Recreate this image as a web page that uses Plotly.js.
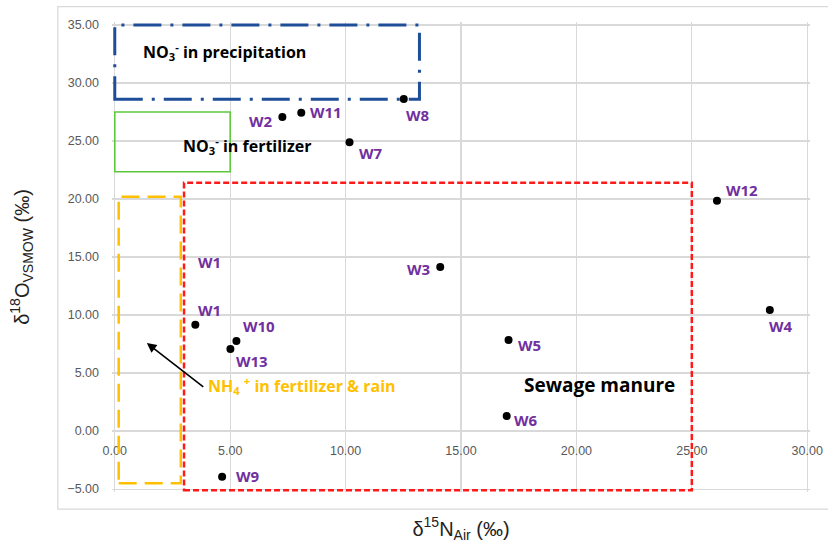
<!DOCTYPE html>
<html>
<head>
<meta charset="utf-8">
<script src="https://cdn.plot.ly/plotly-3.0.1.min.js"></script>
<style>html,body{margin:0;padding:0;background:#fff;}#chart{width:828px;height:543px;}</style>
</head>
<body>
<div id="chart"></div>
<script>
// ---- data ----
const sampleNames = ["W1", "W2", "W3", "W4", "W5", "W6", "W7", "W8", "W9", "W10", "W11", "W12", "W13"];
const d15N = [3.49, 7.26, 14.10, 28.38, 17.06, 16.98, 10.17, 12.52, 4.65, 5.27, 8.08, 26.09, 5.01];
const d18O = [9.16, 27.07, 14.14, 10.43, 7.84, 1.29, 24.89, 28.62, -3.94, 7.76, 27.44, 19.85, 7.07];

// stray label in the original figure (no point attached)
const strayLabel = {text: "W1", x: 4.11, y: 14.54};

// source regions (delta15N range, delta18O range)
const regionNames = ["NO3- in precipitation", "NO3- in fertilizer", "NH4+ in fertilizer & rain", "Sewage manure"];
const regionN15 = [[0, 13.2], [0, 5.0], [0.17, 2.86], [3.0, 25.0]];
const regionO18 = [[28.6, 35.0], [22.35, 27.5], [-4.5, 20.2], [-5.1, 21.4]];

const xTicks = [0, 5, 10, 15, 20, 25, 30];
const yTicks = [-5, 0, 5, 10, 15, 20, 25, 30, 35];

// ---- styles ----
const labelShift = { // [xshift, yshift] px
  W1: [14, 15], W2: [-21, -4], W3: [-22, -2], W4: [11, -16], W5: [21, -5], W6: [19, -4],
  W7: [21, -11], W8: [14, -16], W9: [26, 1], W10: [23, 15], W11: [25, 1], W12: [25, 11], W13: [22, -12]
};
const regionStyles = [
  {color: "#1f4e99", width: 3, dash: "28px,9px,3px,9px"},
  {color: "#5cc83c", width: 1.6, dash: "solid"},
  {color: "#ffc000", width: 2.5, dash: "18px,8px"},
  {color: "#ff1a1a", width: 2.5, dash: "6px,3px"}
];
const purple = "#7030a0";
const sans = "Open Sans, Liberation Sans, sans-serif";
const labelFont = {family: sans, size: 15, color: purple, weight: 700};

const trace = {
  type: "scatter", mode: "markers",
  x: d15N, y: d18O, text: sampleNames,
  marker: {color: "#000", size: 8},
  hoverinfo: "text+x+y", showlegend: false, cliponaxis: false
};

const annotations = sampleNames.map((n, i) => ({
  x: d15N[i], y: d18O[i], xref: "x", yref: "y", text: n, showarrow: false,
  xshift: labelShift[n][0], yshift: labelShift[n][1], font: labelFont
}));
annotations.push({x: strayLabel.x, y: strayLabel.y, xref: "x", yref: "y", text: strayLabel.text,
  showarrow: false, font: labelFont});

const boldBlack = {family: sans, size: 16, color: "#000", weight: 700};
annotations.push({x: 4.75, y: 32.7, xref: "x", yref: "y", showarrow: false,
  text: "NO<sub>3</sub><sup>-</sup> in precipitation", font: boldBlack});
annotations.push({x: 5.74, y: 24.6, xref: "x", yref: "y", showarrow: false,
  text: "NO<sub>3</sub><sup>-</sup> in fertilizer", font: boldBlack});
annotations.push({x: 8.12, y: 3.97, xref: "x", yref: "y", showarrow: false,
  text: "NH<sub>4</sub> <sup>+</sup> in fertilizer &amp; rain",
  font: {family: sans, size: 16, color: "#ffc000", weight: 700}});
annotations.push({x: 21.0, y: 3.97, xref: "x", yref: "y", showarrow: false,
  text: "Sewage manure", font: {family: sans, size: 19, color: "#000", weight: 700}});
// arrow pointing to NH4+ box
annotations.push({x: 1.39, y: 7.59, ax: 3.9, ay: 3.71, xref: "x", yref: "y", axref: "x", ayref: "y",
  showarrow: true, arrowhead: 2, arrowsize: 1.2, arrowwidth: 1.6, arrowcolor: "#000", text: ""});

const shapes = [
  // outer chart frame
  {type: "rect", xref: "paper", yref: "paper", x0: -0.0777, x1: 1.04, y0: -0.0364, y1: 1.0328,
   line: {color: "#d9d9d9", width: 1.2}, layer: "below"}
];
regionNames.forEach((n, i) => {
  shapes.push({type: "rect", xref: "x", yref: "y",
    x0: regionN15[i][0], x1: regionN15[i][1], y0: regionO18[i][0], y1: regionO18[i][1],
    line: regionStyles[i], fillcolor: "rgba(0,0,0,0)", layer: "above"});
});

const tickFont = {family: "Liberation Sans, Arial, sans-serif", size: 12.5, color: "#595959"};
const titleFont = {family: "Liberation Sans, Arial, sans-serif", size: 20, color: "#222"};
const layout = {
  width: 828, height: 543,
  margin: {l: 112, r: 18, t: 22, b: 51},
  paper_bgcolor: "#fff", plot_bgcolor: "#fff",
  showlegend: false,
  xaxis: {
    range: [-0.12, 30.12], tickvals: xTicks, tickformat: ".2f", tickfont: tickFont,
    showgrid: true, gridcolor: "#d9d9d9", gridwidth: 1.2, zeroline: true, zerolinecolor: "#d9d9d9", zerolinewidth: 1.2,
    showline: false, ticks: "", ticklabelstandoff: 10,
    anchor: "free", position: 0.1296, side: "bottom", automargin: false,
    title: {text: "δ<sup>15</sup>N<sub>Air</sub> (‰)", standoff: 65, font: titleFont}
  },
  yaxis: {
    range: [-5.25, 35.25], tickvals: yTicks, tickformat: ".2f", tickfont: tickFont,
    showgrid: true, gridcolor: "#d9d9d9", gridwidth: 1.2, zeroline: true, zerolinecolor: "#d9d9d9", zerolinewidth: 1.2,
    showline: false, ticks: "", ticklabelstandoff: 12, automargin: false,
    title: {text: "δ<sup>18</sup>O<sub>VSMOW</sub> (‰)", standoff: 32, font: titleFont}
  },
  shapes: shapes,
  annotations: annotations
};

Plotly.newPlot("chart", [trace], layout, {staticPlot: true, displayModeBar: false});
</script>
</body>
</html>
